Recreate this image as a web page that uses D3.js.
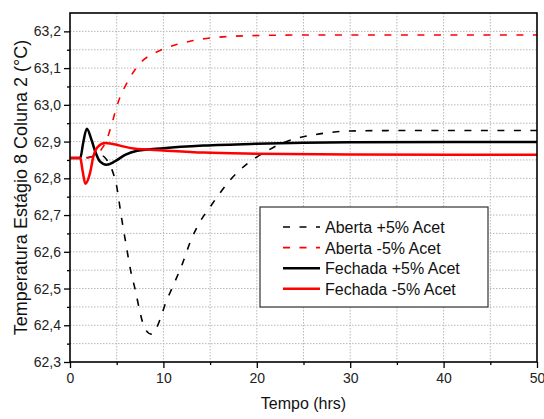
<!DOCTYPE html>
<html>
<head>
<meta charset="utf-8">
<script src="https://cdn.jsdelivr.net/npm/d3@7"></script>
<style>
  body { margin: 0; background: #fff; }
  svg { display: block; font-family: "Liberation Sans", Arial, sans-serif; }
</style>
</head>
<body>
<svg id="chart" width="544" height="419"></svg>
<script>
// values: [tempo (hrs), temperatura (°C)]
var abertaMais = [[0,62.855],[1,62.855],[2,62.857],[3,62.862],[3.5,62.861],[4,62.848],[4.5,62.823],
  [5,62.778],[5.5,62.695],[6,62.62],[6.5,62.548],[7,62.495],[7.5,62.435],[8,62.392],[8.7,62.376],
  [9.2,62.39],[9.7,62.42],[10.2,62.458],[11,62.505],[12,62.565],[13,62.635],[14,62.685],[15,62.722],
  [16,62.758],[17,62.791],[18,62.818],[19,62.84],[20,62.858],[21,62.873],[22.3,62.891],[24,62.907],
  [26,62.918],[28,62.925],[30,62.929],[35,62.93],[50,62.93]];
var abertaMenos = [[0,62.855],[2,62.856],[2.5,62.86],[3,62.868],[3.5,62.884],[4,62.91],[4.5,62.95],
  [5,62.995],[5.5,63.03],[6,63.055],[6.5,63.078],[7,63.097],[7.5,63.113],[8,63.125],[9,63.14],
  [10,63.152],[11.4,63.164],[13.2,63.175],[15,63.182],[17,63.186],[19,63.188],[25,63.19],[50,63.19]];
var fechadaMais = [[0,62.855],[1.1,62.855],[1.4,62.895],[1.8,62.935],[2.3,62.905],[2.7,62.873],
  [3.2,62.846],[3.9,62.837],[4.8,62.846],[5.9,62.864],[7.2,62.875],[10,62.882],[14.3,62.889],
  [20,62.894],[30,62.898],[50,62.899]];
var fechadaMenos = [[0,62.855],[1.1,62.855],[1.35,62.82],[1.65,62.785],[2.14,62.814],[2.5,62.859],
  [3.0,62.886],[3.75,62.896],[4.3,62.895],[5.35,62.889],[6.8,62.881],[10,62.876],[14.3,62.870],
  [20,62.867],[30,62.865],[50,62.864]];

var seriesNames = ["Aberta +5% Acet", "Aberta -5% Acet", "Fechada +5% Acet", "Fechada -5% Acet"];
var xTicks = [0, 10, 20, 30, 40, 50];
var xMinor = [5, 15, 25, 35, 45];
var yTicks = [62.3, 62.4, 62.5, 62.6, 62.7, 62.8, 62.9, 63.0, 63.1, 63.2];
var yMinor = [62.35, 62.45, 62.55, 62.65, 62.75, 62.85, 62.95, 63.05, 63.15];

var svg = d3.select("#chart");
var pLeft = 70, pRight = 537, pTop = 13, pBottom = 362;

var x = d3.scaleLinear().domain([0, 50]).range([pLeft, pRight]);
var y = d3.scaleLinear().domain([62.3, 63.25]).range([pBottom, pTop]);

var fmt = function (d) { return d3.format(".1f")(d).replace(".", ","); };

// dotted grid on major and minor ticks
var grid = svg.append("g").attr("stroke", "#b8b8b8").attr("stroke-width", 1)
    .attr("stroke-dasharray", "1.5,1.5");
grid.selectAll(".gx").data(xTicks.concat(xMinor).filter(function (d) { return d > 0 && d < 50; }))
  .enter().append("line")
    .attr("x1", function (d) { return x(d); }).attr("x2", function (d) { return x(d); })
    .attr("y1", pTop).attr("y2", pBottom);
grid.selectAll(".gy").data(yTicks.concat(yMinor).filter(function (d) { return d > 62.3; }))
  .enter().append("line")
    .attr("y1", function (d) { return y(d); }).attr("y2", function (d) { return y(d); })
    .attr("x1", pLeft).attr("x2", pRight);

// curves
var line = d3.line()
    .x(function (d) { return x(d[0]); })
    .y(function (d) { return y(d[1]); })
    .curve(d3.curveMonotoneX);

var styles = [
  { data: abertaMais, color: "#000", width: 1.6, dash: "7,9.5" },
  { data: abertaMenos, color: "#ff0000", width: 1.6, dash: "7,9.5" },
  { data: fechadaMais, color: "#000", width: 2.5, dash: null },
  { data: fechadaMenos, color: "#ff0000", width: 2.5, dash: null }
];

svg.append("defs").append("clipPath").attr("id", "clip")
  .append("rect").attr("x", pLeft).attr("y", pTop).attr("width", pRight - pLeft).attr("height", pBottom - pTop);

svg.append("g").attr("clip-path", "url(#clip)")
  .selectAll("path").data(styles).enter().append("path")
    .attr("d", function (d) { return line(d.data); })
    .attr("fill", "none")
    .attr("stroke", function (d) { return d.color; })
    .attr("stroke-width", function (d) { return d.width; })
    .attr("stroke-dasharray", function (d) { return d.dash; });

// axes
svg.append("g").attr("transform", "translate(0," + pBottom + ")")
    .call(d3.axisBottom(x).tickValues(xTicks).tickFormat(d3.format("d")).tickSize(6).tickSizeOuter(0).tickPadding(5));
svg.append("g").attr("transform", "translate(0," + pBottom + ")")
    .call(d3.axisBottom(x).tickValues(xMinor).tickFormat("").tickSize(3).tickSizeOuter(0));
svg.append("g").attr("transform", "translate(" + pLeft + ",0)")
    .call(d3.axisLeft(y).tickValues(yTicks).tickFormat(fmt).tickSize(6).tickSizeOuter(0).tickPadding(3));
svg.append("g").attr("transform", "translate(" + pLeft + ",0)")
    .call(d3.axisLeft(y).tickValues(yMinor).tickFormat("").tickSize(3).tickSizeOuter(0));

svg.selectAll(".domain").remove();
svg.selectAll(".tick line").attr("stroke", "#000").attr("stroke-width", 1.3);
svg.selectAll(".tick text").attr("fill", "#222").style("font-size", "14px")
  .style("font-family", "'Liberation Sans', Arial, sans-serif");

// frame
svg.append("rect").attr("x", pLeft).attr("y", pTop).attr("width", pRight - pLeft).attr("height", pBottom - pTop)
  .attr("fill", "none").attr("stroke", "#000").attr("stroke-width", 1.6);

// axis titles
svg.append("text").attr("x", (pLeft + pRight) / 2).attr("y", 409).attr("text-anchor", "middle")
  .style("font-size", "16px").attr("fill", "#111").text("Tempo (hrs)");
svg.append("text").attr("transform", "translate(27," + (pTop + pBottom) / 2 + ") rotate(-90)")
  .attr("text-anchor", "middle").style("font-size", "18px").attr("fill", "#111")
  .text("Temperatura Estágio 8 Coluna 2 (°C)");

// legend
var legend = svg.append("g");
legend.append("rect").attr("x", 260).attr("y", 207).attr("width", 228).attr("height", 100)
  .attr("fill", "#fff").attr("stroke", "#333").attr("stroke-width", 1.2);
var rows = legend.selectAll(".row").data(styles).enter().append("g")
  .attr("transform", function (d, i) { return "translate(0," + (227 + i * 20.6) + ")"; });
rows.append("line").attr("x1", 283).attr("x2", 320).attr("y1", 0).attr("y2", 0)
  .attr("stroke", function (d) { return d.color; })
  .attr("stroke-width", function (d) { return d.width; })
  .attr("stroke-dasharray", function (d) { return d.dash; });
rows.append("text").attr("x", 325).attr("y", 6).style("font-size", "16px").attr("fill", "#111")
  .text(function (d, i) { return seriesNames[i]; });
</script>
</body>
</html>
